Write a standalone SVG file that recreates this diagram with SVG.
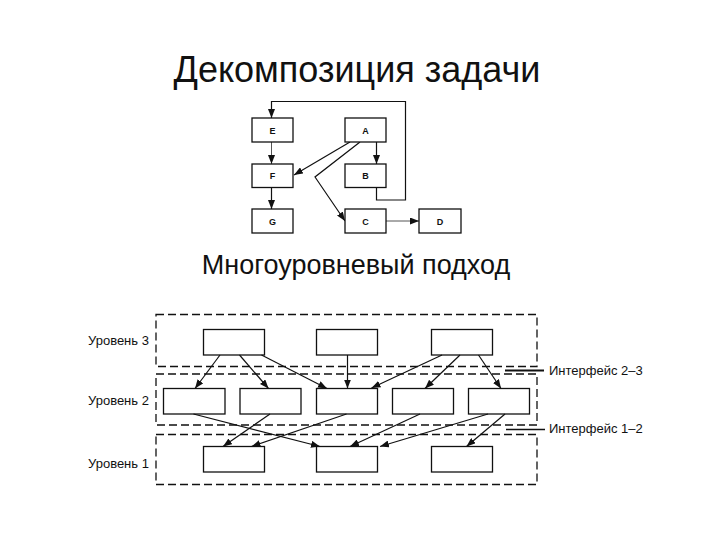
<svg xmlns="http://www.w3.org/2000/svg" width="720" height="540" viewBox="0 0 720 540">
<style>
.t{font-family:"Liberation Sans",Arial,sans-serif;fill:#111}
.box{fill:#fff;stroke:#111;stroke-width:1.3}
.lvl{fill:none;stroke:#111;stroke-width:1.3;stroke-dasharray:8 4}
.ln{fill:none;stroke:#111;stroke-width:1.2}
.lt{fill:none;stroke:#555;stroke-width:1}
.lb{font-size:9px;text-anchor:middle;font-weight:bold}
.lv{font-size:13px}
</style>
<defs>
<marker id="ah" markerUnits="userSpaceOnUse" markerWidth="9" markerHeight="7" refX="9" refY="3.5" orient="auto">
<path d="M0,0 L9,3.5 L0,7 z" fill="#111"/>
</marker>
</defs>
<rect width="720" height="540" fill="#fff"/>
<text class="t" x="357" y="82" font-size="36" text-anchor="middle">Декомпозиция задачи</text>
<text class="t" x="356" y="274" font-size="27" text-anchor="middle">Многоуровневый подход</text>

<g id="top-connectors">
<path class="ln" d="M376.5,187.5 V200 H405.5 V101.5 H271.5 V118" marker-end="url(#ah)"/>
<path class="lt" d="M271.5,142 V164" marker-end="url(#ah)"/>
<path class="ln" d="M271.5,187.5 V209" marker-end="url(#ah)"/>
<path class="ln" d="M376.5,142 V164" marker-end="url(#ah)"/>
<path class="ln" d="M350,142 L294,175" marker-end="url(#ah)"/>
<path class="ln" d="M360,142 L315,177 L345,221" marker-end="url(#ah)"/>
<path class="lt" d="M386,221 H419" marker-end="url(#ah)"/>
</g>
<g id="E"><rect class="box" x="252" y="118" width="41" height="24"/><text class="t lb" x="272.5" y="134">E</text></g>
<g id="A"><rect class="box" x="345" y="118" width="41" height="24"/><text class="t lb" x="365.5" y="134">A</text></g>
<g id="F"><rect class="box" x="252" y="164" width="41" height="23.5"/><text class="t lb" x="272.5" y="179">F</text></g>
<g id="B"><rect class="box" x="345" y="164" width="41" height="23.5"/><text class="t lb" x="365.5" y="179">B</text></g>
<g id="G"><rect class="box" x="252" y="209" width="41" height="24"/><text class="t lb" x="272.5" y="225">G</text></g>
<g id="C"><rect class="box" x="345" y="209" width="41" height="24"/><text class="t lb" x="365.5" y="225">C</text></g>
<g id="D"><rect class="box" x="419" y="209" width="42" height="24"/><text class="t lb" x="440" y="225">D</text></g>

<g id="levels">
<rect class="lvl" x="156" y="314.5" width="381" height="52"/>
<rect class="lvl" x="156" y="374" width="381" height="51"/>
<rect class="lvl" x="156" y="434.5" width="381" height="50"/>
<text class="t lv" x="88" y="344.5">Уровень 3</text>
<text class="t lv" x="88" y="404.5">Уровень 2</text>
<text class="t lv" x="88" y="468">Уровень 1</text>
</g>
<g id="interfaces">
<line x1="505" y1="370.5" x2="544" y2="370.5" stroke="#111" stroke-width="2"/>
<text class="t lv" x="549" y="375">Интерфейс 2–3</text>
<line x1="506" y1="429.5" x2="545" y2="429.5" stroke="#111" stroke-width="1.3"/>
<text class="t lv" x="549" y="433">Интерфейс 1–2</text>
</g>

<g id="L3-1"><rect class="box" x="203.5" y="329.5" width="61" height="25.5"/></g>
<g id="L3-2"><rect class="box" x="316.5" y="329.5" width="61" height="25.5"/></g>
<g id="L3-3"><rect class="box" x="431.5" y="329.5" width="61" height="25.5"/></g>
<g id="L2-1"><rect class="box" x="163.5" y="388.5" width="61.5" height="25.5"/></g>
<g id="L2-2"><rect class="box" x="240" y="388.5" width="61" height="25.5"/></g>
<g id="L2-3"><rect class="box" x="316.5" y="388.5" width="61" height="25.5"/></g>
<g id="L2-4"><rect class="box" x="392.5" y="388.5" width="61" height="25.5"/></g>
<g id="L2-5"><rect class="box" x="468.5" y="388.5" width="61" height="25.5"/></g>
<g id="L1-1"><rect class="box" x="203.5" y="446.5" width="61" height="25.5"/></g>
<g id="L1-2"><rect class="box" x="316.5" y="446.5" width="61" height="25.5"/></g>
<g id="L1-3"><rect class="box" x="431.5" y="446.5" width="61" height="25.5"/></g>

<g id="connectors">
<path class="ln" d="M220,355 L195,388.5" marker-end="url(#ah)"/>
<path class="ln" d="M239.5,355 L268.5,388.5" marker-end="url(#ah)"/>
<path class="ln" d="M261.5,355 L327,388.5" marker-end="url(#ah)"/>
<path class="ln" d="M347.5,355 V388.5" marker-end="url(#ah)"/>
<path class="ln" d="M442,355 L371.5,388" marker-end="url(#ah)"/>
<path class="ln" d="M460,355 L425,388.5" marker-end="url(#ah)"/>
<path class="ln" d="M478.5,355 L501,388.5" marker-end="url(#ah)"/>
<path class="ln" d="M193.5,414 L320,446.5" marker-end="url(#ah)"/>
<path class="ln" d="M270,414 L223,446.5" marker-end="url(#ah)"/>
<path class="ln" d="M346.5,414 L251.5,446.5" marker-end="url(#ah)"/>
<path class="ln" d="M420,414 L350,446.5" marker-end="url(#ah)"/>
<path class="ln" d="M488,414 L380,446.5" marker-end="url(#ah)"/>
<path class="ln" d="M505,414 L466.5,446.5" marker-end="url(#ah)"/>
</g>
</svg>
